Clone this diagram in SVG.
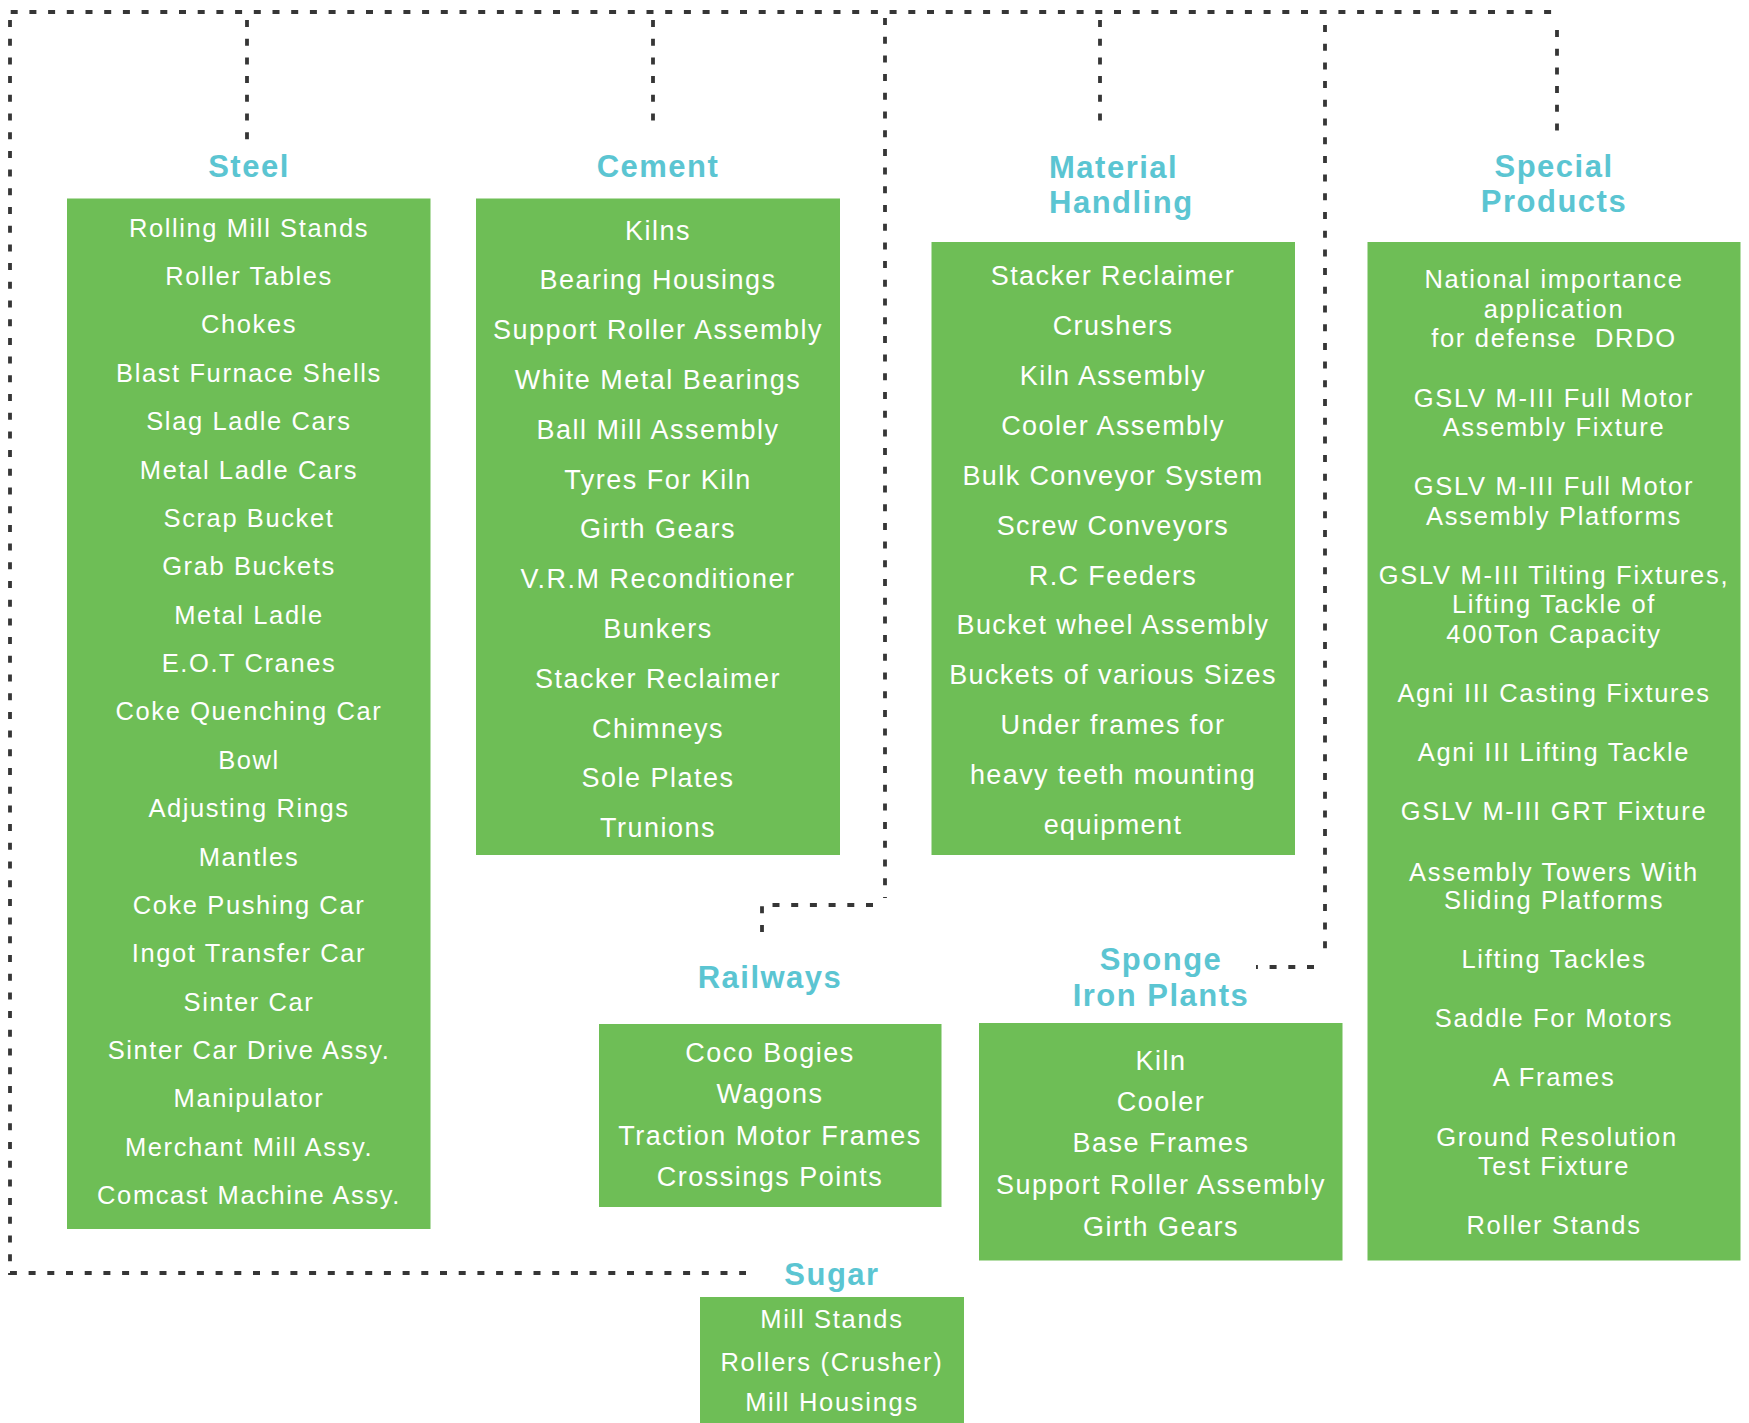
<svg xmlns="http://www.w3.org/2000/svg" width="1749" height="1423" viewBox="0 0 1749 1423">
<style>
.box{fill:#6ebe56}
.hd{font-family:"Liberation Sans",Arial,sans-serif;font-weight:bold;font-size:31px;fill:#5bc5d2;letter-spacing:1.5px}
.t{font-family:"Liberation Sans",Arial,sans-serif;fill:#ffffff;text-anchor:middle}
.s{font-size:25.5px;letter-spacing:1.6px}
.m{font-size:27px;letter-spacing:1.5px}
.p{font-size:25.5px;letter-spacing:1.7px}
.ln{fill:none;stroke:#363636;stroke-width:3.8;stroke-dasharray:7 11.7}
</style>
<rect width="1749" height="1423" fill="#ffffff"/>
<g id="connectors">
<path class="ln" d="M10.7,12 H1557"/>
<path class="ln" d="M10,20 V1273 H746"/>
<path class="ln" d="M247,20 V140"/>
<path class="ln" d="M653,20 V126"/>
<path class="ln" d="M885,18 V898"/>
<path class="ln" d="M873,905 H762 V940"/>
<path class="ln" d="M1100,20 V123"/>
<path class="ln" d="M1325,25 V958"/>
<path class="ln" d="M1314,967 H1256"/>
<path class="ln" d="M1557,30 V142"/>
</g>
<g id="steel">
<text class="hd" x="249" y="177" text-anchor="middle">Steel</text>
<rect class="box" x="67" y="198.5" width="363.5" height="1030.5"/>
<g class="t s">
<text x="249" y="236.6">Rolling Mill Stands</text>
<text x="249" y="285">Roller Tables</text>
<text x="249" y="333.4">Chokes</text>
<text x="249" y="381.7">Blast Furnace Shells</text>
<text x="249" y="430.1">Slag Ladle Cars</text>
<text x="249" y="478.5">Metal Ladle Cars</text>
<text x="249" y="526.9">Scrap Bucket</text>
<text x="249" y="575.2">Grab Buckets</text>
<text x="249" y="623.6">Metal Ladle</text>
<text x="249" y="672">E.O.T Cranes</text>
<text x="249" y="720.4">Coke Quenching Car</text>
<text x="249" y="768.7">Bowl</text>
<text x="249" y="817.1">Adjusting Rings</text>
<text x="249" y="865.5">Mantles</text>
<text x="249" y="913.9">Coke Pushing Car</text>
<text x="249" y="962.2">Ingot Transfer Car</text>
<text x="249" y="1010.6">Sinter Car</text>
<text x="249" y="1059">Sinter Car Drive Assy.</text>
<text x="249" y="1107.4">Manipulator</text>
<text x="249" y="1155.7">Merchant Mill Assy.</text>
<text x="249" y="1204.1">Comcast Machine Assy.</text>
</g>
</g>
<g id="cement">
<text class="hd" x="658" y="177" text-anchor="middle">Cement</text>
<rect class="box" x="476" y="198.5" width="364" height="656.5"/>
<g class="t m">
<text x="658" y="239.6">Kilns</text>
<text x="658" y="289.4">Bearing Housings</text>
<text x="658" y="339.2">Support Roller Assembly</text>
<text x="658" y="389">White Metal Bearings</text>
<text x="658" y="438.8">Ball Mill Assembly</text>
<text x="658" y="488.6">Tyres For Kiln</text>
<text x="658" y="538.4">Girth Gears</text>
<text x="658" y="588.2">V.R.M Reconditioner</text>
<text x="658" y="638">Bunkers</text>
<text x="658" y="687.8">Stacker Reclaimer</text>
<text x="658" y="737.6">Chimneys</text>
<text x="658" y="787.4">Sole Plates</text>
<text x="658" y="837.2">Trunions</text>
</g>
</g>
<g id="material-handling">
<text class="hd" x="1049" y="178">Material</text>
<text class="hd" x="1049" y="213">Handling</text>
<rect class="box" x="931.5" y="242" width="363.5" height="613"/>
<g class="t m" style="letter-spacing:1.4px">
<text x="1113" y="285.2">Stacker Reclaimer</text>
<text x="1113" y="335.1">Crushers</text>
<text x="1113" y="385">Kiln Assembly</text>
<text x="1113" y="434.8">Cooler Assembly</text>
<text x="1113" y="484.7">Bulk Conveyor System</text>
<text x="1113" y="534.6">Screw Conveyors</text>
<text x="1113" y="584.5">R.C Feeders</text>
<text x="1113" y="634.4">Bucket wheel Assembly</text>
<text x="1113" y="684.2">Buckets of various Sizes</text>
<text x="1113" y="734.1">Under frames for</text>
<text x="1113" y="784">heavy teeth mounting</text>
<text x="1113" y="833.9">equipment</text>
</g>
</g>
<g id="special-products">
<text class="hd" x="1554" y="177" text-anchor="middle">Special</text>
<text class="hd" x="1554" y="212" text-anchor="middle">Products</text>
<rect class="box" x="1367.5" y="242" width="373" height="1018.5"/>
<g class="t p">
<text x="1554" y="288.1">National importance</text>
<text x="1554" y="317.6">application</text>
<text x="1554" y="347.1" xml:space="preserve">for defense  DRDO</text>
<text x="1554" y="407.1">GSLV M-III Full Motor</text>
<text x="1554" y="436.1">Assembly Fixture</text>
<text x="1554" y="495.1">GSLV M-III Full Motor</text>
<text x="1554" y="524.7">Assembly Platforms</text>
<text x="1554" y="583.8">GSLV M-III Tilting Fixtures,</text>
<text x="1554" y="612.6">Lifting Tackle of</text>
<text x="1554" y="642.9">400Ton Capacity</text>
<text x="1554" y="701.9">Agni III Casting Fixtures</text>
<text x="1554" y="761">Agni III Lifting Tackle</text>
<text x="1554" y="819.6">GSLV M-III GRT Fixture</text>
<text x="1554" y="880.6">Assembly Towers With</text>
<text x="1554" y="909.1">Sliding Platforms</text>
<text x="1554" y="968.1">Lifting Tackles</text>
<text x="1554" y="1026.9">Saddle For Motors</text>
<text x="1554" y="1086.1">A Frames</text>
<text x="1557" y="1146.4">Ground Resolution</text>
<text x="1554" y="1175.1">Test Fixture</text>
<text x="1554" y="1233.5">Roller Stands</text>
</g>
</g>
<g id="railways">
<text class="hd" x="770" y="988" text-anchor="middle">Railways</text>
<rect class="box" x="599" y="1024" width="342.5" height="183"/>
<g class="t m">
<text x="770" y="1062.4">Coco Bogies</text>
<text x="770" y="1103.2">Wagons</text>
<text x="770" y="1144.7">Traction Motor Frames</text>
<text x="770" y="1185.7">Crossings Points</text>
</g>
</g>
<g id="sponge-iron-plants">
<text class="hd" x="1161" y="970" text-anchor="middle">Sponge</text>
<text class="hd" x="1161" y="1006" text-anchor="middle">Iron Plants</text>
<rect class="box" x="979" y="1023" width="363.5" height="237.5"/>
<g class="t m">
<text x="1161" y="1069.7">Kiln</text>
<text x="1161" y="1110.7">Cooler</text>
<text x="1161" y="1152.4">Base Frames</text>
<text x="1161" y="1194">Support Roller Assembly</text>
<text x="1161" y="1235.7">Girth Gears</text>
</g>
</g>
<g id="sugar">
<text class="hd" x="832" y="1285" text-anchor="middle">Sugar</text>
<rect class="box" x="700" y="1297" width="264" height="126"/>
<g class="t p">
<text x="832" y="1328.1">Mill Stands</text>
<text x="832" y="1370.6">Rollers (Crusher)</text>
<text x="832" y="1411.1">Mill Housings</text>
</g>
</g>
</svg>
